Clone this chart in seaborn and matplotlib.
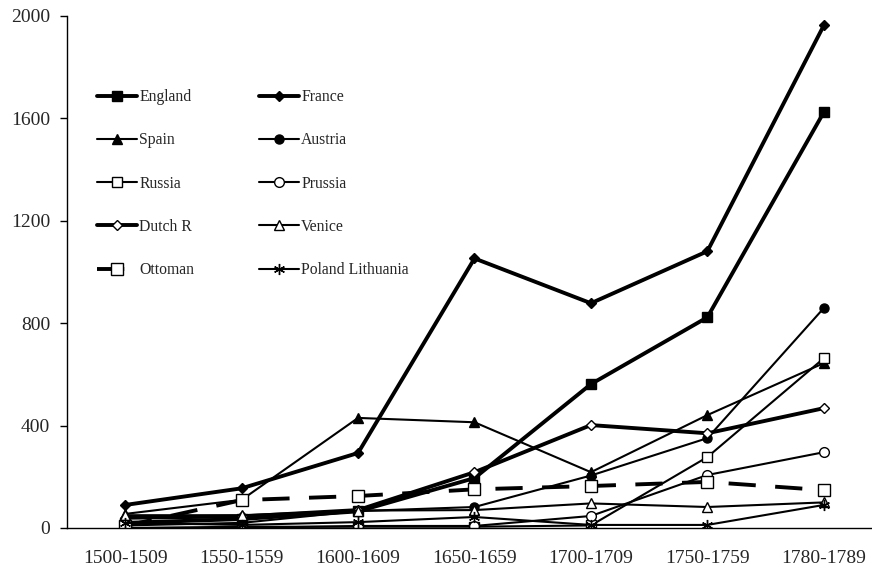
import numpy as np
import seaborn as sns
import matplotlib.pyplot as plt

############################## data ##############################

periods = ["1500-1509", "1550-1559", "1600-1609", "1650-1659",
           "1700-1709", "1750-1759", "1780-1789"]

england = [20, 35, 65, 195, 562, 823, 1624]
france = [90, 155, 293, 1053, 878, 1081, 1963]
spain = [55, 110, 430, 413, 218, 441, 644]
austria = [10, 20, 66, 82, 205, 351, 859]
russia = [0, 5, 5, 5, 10, 277, 663]
prussia = [0, 0, 8, 8, 47, 207, 296]
dutch = [40, 45, 70, 218, 402, 370, 468]
venice = [50, 50, 68, 70, 96, 82, 100]
ottoman = [8, 109, 125, 151, 164, 180, 148]
poland = [20, 12, 23, 43, 12, 12, 90]

y_ticks = [0, 400, 800, 1200, 1600, 2000]

############################## styles per series ##############################

thick = 2.8
thin = 1.5

# (label, values, marker, size, face, linewidth, linestyle)
series = [
    ("England", england, "s", 6.5, "black", thick, "-"),
    ("France", france, "D", 5, "black", thick, "-"),
    ("Spain", spain, "^", 6.5, "black", thin, "-"),
    ("Austria", austria, "o", 6.5, "black", thin, "-"),
    ("Russia", russia, "s", 6.5, "white", thin, "-"),
    ("Prussia", prussia, "o", 7, "white", thin, "-"),
    ("Dutch R", dutch, "D", 5, "white", thick, "-"),
    ("Venice", venice, "^", 7, "white", thin, "-"),
    ("Ottoman", ottoman, "s", 9, "white", thick, (0, (7, 5))),
    ("Poland Lithuania", poland, (6, 2, 0), 8, "black", thin, "-"),
]

sns.set_style("white")
plt.rcParams['font.family'] = ['Liberation Serif', 'DejaVu Serif']

fig = plt.figure(figsize=(8.72, 5.68), dpi=100)
# axes runs a little past the right edge, like the source
ax = fig.add_axes([67 / 872, 40 / 568, 815 / 872, 512 / 568])

x = np.arange(len(periods))
for name, vals, mk, ms, face, lw, ls in series:
    sns.lineplot(x=x, y=vals, ax=ax, color="black", linewidth=lw, linestyle=ls,
                 marker=mk, markersize=ms, markerfacecolor=face,
                 markeredgecolor="black", markeredgewidth=1.0, label=name)

ax.set_xlim(-0.5, 6.5)
ax.set_ylim(0, 2000)
ax.set_yticks(y_ticks)
ax.set_yticklabels([str(v) for v in y_ticks], fontsize=14)

# labels under categories, tick marks between them
ax.set_xticks(x)
ax.set_xticklabels(periods, fontsize=14)
ax.set_xticks(np.arange(-0.5, 7, 1), minor=True)
ax.tick_params(axis="x", which="major", length=0, pad=16)
ax.tick_params(axis="x", which="minor", length=5, width=1, direction="out", color="black")
ax.tick_params(axis="y", which="major", length=5, width=1, direction="out", color="black", pad=7, left=True)

for side in ["top", "right"]:
    ax.spines[side].set_visible(False)
for side in ["left", "bottom"]:
    ax.spines[side].set_color("black")
    ax.spines[side].set_linewidth(1.0)
ax.grid(False)

# legend filled row by row like the original
handles, labels = ax.get_legend_handles_labels()
order = [0, 2, 4, 6, 8, 1, 3, 5, 7, 9]
ax.legend([handles[i] for i in order], [labels[i] for i in order],
          ncol=2, frameon=False, fontsize=11.3, loc="upper left",
          bbox_to_anchor=(97 / 872, 1 - 89 / 568), bbox_transform=fig.transFigure,
          borderpad=0, borderaxespad=0, handlelength=2.55, handletextpad=0.15,
          labelspacing=1.74, columnspacing=4.1)

fig.savefig("out.png", dpi=100)
